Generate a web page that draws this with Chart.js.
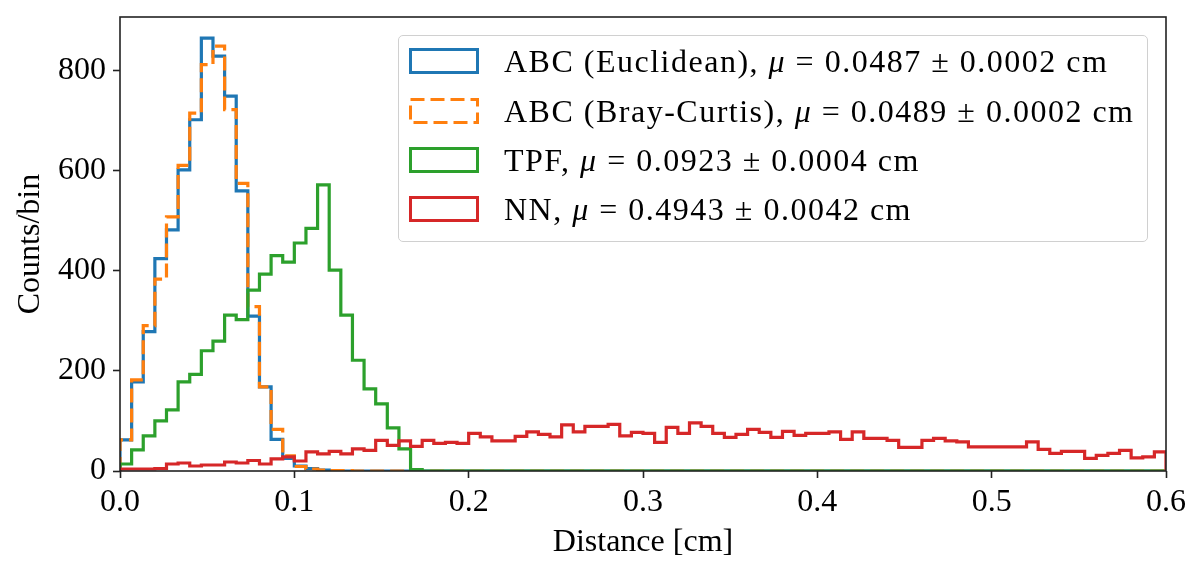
<!DOCTYPE html>
<html>
<head>
<meta charset="utf-8">
<script src="https://cdn.jsdelivr.net/npm/chart.js@4.4.0/dist/chart.umd.min.js"></script>
<style>
    html, body { margin: 0; padding: 0; background: #fff; }
    #wrap { position: relative; width: 1201px; height: 574px; }
    #legend {
        position: absolute; left: 398px; top: 35px; width: 750px; height: 207px;
        box-sizing: border-box; border: 1.5px solid #d0d0d0; border-radius: 5px;
        background: rgba(255, 255, 255, 0.8);
        font-family: 'Liberation Serif', serif; font-size: 32px; color: #000;
    }
    .row { position: absolute; left: 10px; height: 30px; display: flex; align-items: center; white-space: nowrap; }
    .row span { margin-left: 25px; letter-spacing: 1.5px; }
</style>
</head>
<body>
<div id="wrap">
    <canvas id="chart" width="1201" height="574"></canvas>
    <div id="legend"></div>
</div>
<script>
'use strict';

// histogram range, 90 equal bins from 0 to 0.6 cm
const xMin = 0;
const xMax = 0.6;

const xTickValues = [0, 0.1, 0.2, 0.3, 0.4, 0.5, 0.6];
const xTickLabels = ['0.0', '0.1', '0.2', '0.3', '0.4', '0.5', '0.6'];
const yTickValues = [0, 200, 400, 600, 800];

const abcEuclidean = [
    62, 178, 278, 424, 481, 601, 701, 864, 828, 748,
    559, 309, 168, 63, 25, 10, 5, 2, 1, 0,
    0, 0, 0, 0, 0, 0, 0, 0, 0, 0,
    0, 0, 0, 0, 0, 0, 0, 0, 0, 0,
    0, 0, 0, 0, 0, 0, 0, 0, 0, 0,
    0, 0, 0, 0, 0, 0, 0, 0, 0, 0,
    0, 0, 0, 0, 0, 0, 0, 0, 0, 0,
    0, 0, 0, 0, 0, 0, 0, 0, 0, 0,
    0, 0, 0, 0, 0, 0, 0, 0, 0, 0
];
const abcBrayCurtis = [
    62, 182, 290, 383, 507, 610, 714, 811, 848, 721,
    574, 328, 168, 83, 30, 9, 4, 2, 1, 1,
    0, 0, 0, 0, 0, 0, 0, 0, 0, 0,
    0, 0, 0, 0, 0, 0, 0, 0, 0, 0,
    0, 0, 0, 0, 0, 0, 0, 0, 0, 0,
    0, 0, 0, 0, 0, 0, 0, 0, 0, 0,
    0, 0, 0, 0, 0, 0, 0, 0, 0, 0,
    0, 0, 0, 0, 0, 0, 0, 0, 0, 0,
    0, 0, 0, 0, 0, 0, 0, 0, 0, 0
];
const tpf = [
    14, 42, 70, 100, 122, 178, 193, 240, 259, 311,
    302, 361, 393, 430, 417, 455, 484, 571, 401, 311,
    221, 164, 134, 86, 44, 3, 0, 0, 0, 0,
    0, 0, 0, 0, 0, 0, 0, 0, 0, 0,
    0, 0, 0, 0, 0, 0, 0, 0, 0, 0,
    0, 0, 0, 0, 0, 0, 0, 0, 0, 0,
    0, 0, 0, 0, 0, 0, 0, 0, 0, 0,
    0, 0, 0, 0, 0, 0, 0, 0, 0, 0,
    0, 0, 0, 0, 0, 0, 0, 0, 0, 0
];
const nn = [
    4, 4, 4, 5, 14, 16, 10, 12, 12, 18,
    16, 21, 14, 24, 28, 20, 38, 34, 39, 34,
    44, 41, 61, 51, 60, 49, 61, 55, 57, 55,
    75, 68, 60, 60, 69, 78, 73, 68, 92, 78,
    89, 89, 93, 70, 77, 75, 57, 87, 75, 96,
    89, 75, 67, 73, 83, 77, 67, 79, 71, 75,
    75, 78, 63, 78, 65, 65, 61, 47, 47, 61,
    65, 60, 58, 48, 48, 48, 48, 48, 58, 43,
    35, 39, 39, 25, 31, 35, 41, 26, 28, 38
];

const seriesNames = ['ABC (Euclidean)', 'ABC (Bray-Curtis)', 'TPF', 'NN'];
const seriesMeans = ['0.0487', '0.0489', '0.0923', '0.4943'];
const seriesErrors = ['0.0002', '0.0002', '0.0004', '0.0042'];
const colors = ['#1f77b4', '#ff7f0e', '#2ca02c', '#d62728'];
const dashes = [[], [14, 6], [], []];

const fontFamily = "'Liberation Serif', serif";

// outline of a step histogram: up at the first edge, down at the last one
function stepPoints(counts) {
    const w = (xMax - xMin) / counts.length;
    const pts = [{ 'x': xMin, 'y': 0 }];
    counts.forEach((c, i) => pts.push({ 'x': xMin + i * w, 'y': c }));
    pts.push({ 'x': xMax, 'y': counts[counts.length - 1] });
    pts.push({ 'x': xMax, 'y': 0 });
    return pts;
}

const allCounts = [abcEuclidean, abcBrayCurtis, tpf, nn];

const datasets = allCounts.map((counts, i) => ({
    'label': seriesNames[i],
    'data': stepPoints(counts),
    'stepped': true,
    'borderColor': colors[i],
    'borderWidth': 3.2,
    'borderDash': dashes[i],
    'borderJoinStyle': 'miter',
    'borderCapStyle': 'butt',
    'pointRadius': 0,
    'fill': false,
    'order': 3 - i
}));

// matplotlib draws the spines above the lines
const framePlugin = {
    'id': 'frame',
    afterDatasetsDraw(chart) {
        const { ctx, chartArea } = chart;
        ctx.save();
        ctx.strokeStyle = '#222';
        ctx.lineWidth = 1.6;
        ctx.strokeRect(chartArea.left, chartArea.top, chartArea.right - chartArea.left, chartArea.bottom - chartArea.top);
        ctx.restore();
    }
};

const tickFont = { 'family': fontFamily, 'size': 32 };

new Chart(document.getElementById('chart').getContext('2d'), {
    'type': 'line',
    'data': { 'datasets': datasets },
    'plugins': [framePlugin],
    'options': {
        'responsive': false,
        'animation': false,
        'layout': { 'padding': { 'left': 0, 'right': 35, 'top': 17, 'bottom': 0 } },
        'plugins': { 'legend': { 'display': false }, 'tooltip': { 'enabled': false } },
        'scales': {
            'x': {
                'type': 'linear',
                'min': xMin,
                'max': xMax,
                afterBuildTicks(scale) {
                    scale.ticks = xTickValues.map(v => ({ 'value': v }));
                },
                afterFit(scale) {
                    scale.height = 103;
                    scale.paddingLeft = 0;
                    scale.paddingRight = 0;
                },
                'ticks': {
                    'font': tickFont,
                    'color': '#000',
                    'padding': 5,
                    'maxRotation': 0,
                    'callback': (v, i) => xTickLabels[i]
                },
                'grid': { 'drawOnChartArea': false, 'drawTicks': true, 'tickLength': 7, 'tickColor': '#222', 'tickWidth': 1.6 },
                'border': { 'display': false },
                'title': { 'display': true, 'text': 'Distance [cm]', 'font': tickFont, 'color': '#000', 'padding': { 'top': 0, 'bottom': 12 } }
            },
            'y': {
                'min': 0,
                'max': 906,
                afterBuildTicks(scale) {
                    scale.ticks = yTickValues.map(v => ({ 'value': v }));
                },
                afterFit(scale) {
                    scale.width = 120;
                    scale.paddingTop = 0;
                    scale.paddingBottom = 0;
                },
                'ticks': {
                    'font': tickFont,
                    'color': '#000',
                    'padding': 7,
                    'callback': v => String(v)
                },
                'grid': { 'drawOnChartArea': false, 'drawTicks': true, 'tickLength': 7, 'tickColor': '#222', 'tickWidth': 1.6 },
                'border': { 'display': false },
                'title': { 'display': true, 'text': 'Counts/bin', 'font': tickFont, 'color': '#000', 'padding': { 'top': 11, 'bottom': 0 } }
            }
        }
    }
});

// legend with the mean distance of each method
const legend = document.getElementById('legend');
const rowTops = [10, 60, 109, 158];
seriesNames.forEach((name, i) => {
    const row = document.createElement('div');
    row.className = 'row';
    row.style.top = rowTops[i] + 'px';
    const dash = dashes[i].length ? ` stroke-dasharray="${dashes[i].join(' ')}"` : '';
    row.innerHTML =
        `<svg width="70" height="26"><rect x="1.5" y="1.5" width="67" height="23" fill="none" stroke="${colors[i]}" stroke-width="3"${dash}/></svg>` +
        `<span>${name}, <i>μ</i> = ${seriesMeans[i]} ± ${seriesErrors[i]} cm</span>`;
    legend.appendChild(row);
});
</script>
</body>
</html>
